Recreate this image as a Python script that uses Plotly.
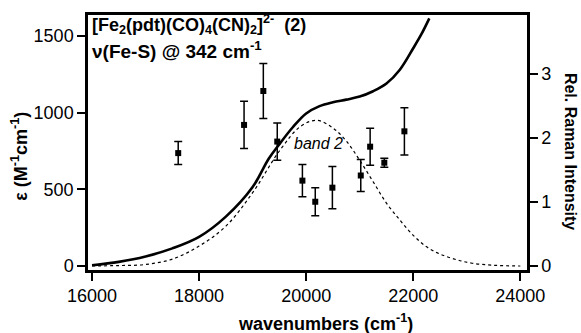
import plotly.graph_objects as go

# Absorption spectrum (solid line), left axis
abs_wn = [16000, 16500, 17000, 17500, 18000, 18500, 19000, 19300, 19500, 19750,
          20000, 20250, 20500, 20750, 21000, 21250, 21500, 21750, 22000, 22150, 22300]
abs_eps = [5, 27, 62, 115, 190, 322, 515, 700, 795, 905,
           995, 1043, 1068, 1085, 1105, 1140, 1190, 1280, 1420, 1510, 1615]

# Band 2 Gaussian fit (dotted line), left axis
band_wn = [16000, 16500, 17000, 17500, 18000, 18500, 19000, 19500, 19900, 20200,
           20500, 20750, 21000, 21250, 21500, 21750, 22000, 22250, 22500, 22800,
           23100, 23500, 24000]
band_eps = [1, 3, 10, 45, 130, 260, 478, 750, 912, 950,
            900, 815, 690, 550, 410, 300, 200, 125, 78, 42,
            18, 5, 0]

# Raman excitation profile points, right axis
raman_wn = [17610, 18840, 19200, 19460, 19930, 20170, 20490, 21020, 21195, 21460, 21835]
raman_int = [1.76, 2.20, 2.73, 1.94, 1.33, 1.00, 1.22, 1.41, 1.86, 1.61, 2.10]
raman_err = [0.18, 0.37, 0.43, 0.29, 0.25, 0.22, 0.33, 0.25, 0.29, 0.07, 0.37]

x_ticks = [16000, 18000, 20000, 22000, 24000]
y_ticks = [0, 500, 1000, 1500]
y2_ticks = [0, 1, 2, 3]

FONT = "Arial, Liberation Sans, sans-serif"

fig = go.Figure()
fig.add_trace(go.Scatter(x=band_wn, y=band_eps, mode="lines",
                         line=dict(color="black", width=1.2, dash="dot", shape="spline"),
                         showlegend=False))
fig.add_trace(go.Scatter(x=abs_wn, y=abs_eps, mode="lines",
                         line=dict(color="black", width=2.6, shape="spline"),
                         showlegend=False))
fig.add_trace(go.Scatter(x=raman_wn, y=raman_int, mode="markers", yaxis="y2",
                         marker=dict(symbol="square", size=6, color="black"),
                         error_y=dict(type="data", array=raman_err, visible=True,
                                      color="black", thickness=1.5, width=4),
                         showlegend=False))

axis_common = dict(showgrid=False, zeroline=False,
                   showline=True, linecolor="black", linewidth=2.5,
                   ticks="outside", ticklen=8, tickwidth=1.5, tickcolor="black",
                   tickfont=dict(size=18))

fig.update_layout(
    width=581, height=333,
    margin=dict(l=88, r=54, t=12, b=63),
    plot_bgcolor="white", paper_bgcolor="white",
    font=dict(family=FONT, size=17, color="black"),
    xaxis=dict(range=[15925, 24125], tickvals=x_ticks,
               ticktext=[str(v) for v in x_ticks], mirror=True, **axis_common),
    yaxis=dict(range=[-26, 1637], tickvals=y_ticks, mirror=True, **axis_common),
    yaxis2=dict(range=[-0.066, 3.917], tickvals=y2_ticks, overlaying="y", side="right",
                **axis_common),
)

fig.add_annotation(xref="paper", yref="paper", x=0.004, y=0.962, xanchor="left", yanchor="middle",
                   text="<b>[Fe<sub>2</sub>(pdt)(CO)<sub>4</sub>(CN)<sub>2</sub>]<sup>2-</sup>  (2)</b>",
                   showarrow=False, font=dict(size=18))
fig.add_annotation(xref="paper", yref="paper", x=0.004, y=0.861, xanchor="left", yanchor="middle",
                   text="<b>ν(Fe-S) @ 342 cm<sup>-1</sup></b>",
                   showarrow=False, font=dict(size=19))
fig.add_annotation(xref="x", yref="y", x=20222, y=802, xanchor="center", yanchor="middle",
                   text="<i>band 2</i>", showarrow=False, font=dict(size=16))
fig.add_annotation(xref="paper", yref="paper", x=(325 - 88.3) / 438.4, y=(270 - 323) / 257.7,
                   xanchor="center", yanchor="middle",
                   text="<b>wavenumbers (cm<sup>-1</sup>)</b>", showarrow=False, font=dict(size=18))
fig.add_annotation(xref="paper", yref="paper", x=(20 - 88.3) / 438.4, y=(270 - 155) / 257.7,
                   xanchor="center", yanchor="middle", textangle=-90,
                   text="<b>ε (M<sup>-1</sup>cm<sup>-1</sup>)</b>", showarrow=False, font=dict(size=18))
fig.add_annotation(xref="paper", yref="paper", x=(570 - 88.3) / 438.4, y=(270 - 150) / 257.7,
                   xanchor="center", yanchor="middle", textangle=90,
                   text="<b>Rel. Raman Intensity</b>", showarrow=False, font=dict(size=16))

fig.write_html("out.html", config={"displayModeBar": False},
               post_script="document.body.style.margin='0px';")
